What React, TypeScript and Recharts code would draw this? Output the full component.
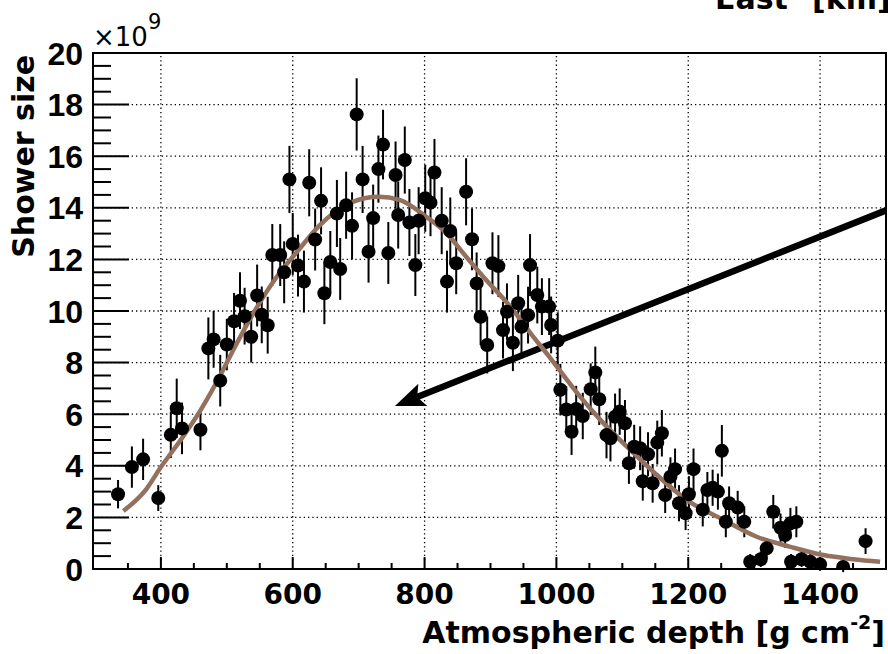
import React from 'react';
import {
  ComposedChart,
  XAxis,
  YAxis,
  Scatter,
  ErrorBar,
  Line,
  ReferenceLine,
  ReferenceArea,
} from 'recharts';

// ---- data ----
const depth = [
  335, 356, 373, 396, 415, 424, 432, 460, 472, 480, 490, 500, 511, 520, 527, 537, 546, 553, 562, 569,
  581, 587, 595, 600, 608, 617, 625, 634, 643, 648, 657, 667, 672, 681, 690, 697, 706, 715, 722, 730,
  737, 745, 756, 760, 770, 777, 786, 791, 801, 809, 815, 826, 834, 839, 848, 863, 872, 879, 885, 895,
  903, 912, 919, 925, 934, 942, 947, 957, 960, 971, 978, 989, 992, 1002, 1006, 1015, 1023, 1030, 1040, 1052,
  1059, 1065, 1076, 1082, 1089, 1096, 1104, 1110, 1118, 1127, 1131, 1139, 1146, 1153, 1160, 1165, 1173, 1180, 1186, 1196,
  1201, 1208, 1222, 1229, 1237, 1245, 1251, 1257, 1262, 1275, 1285, 1294, 1310, 1319, 1329, 1340, 1347, 1355, 1364, 1356,
  1372, 1385, 1400, 1435, 1469,
];

const showerSize = [
  2.9, 3.95, 4.25, 2.75, 5.2, 6.23, 5.45, 5.4, 8.55, 8.9, 7.3, 8.7, 9.6, 10.4, 9.8, 9.0, 10.6, 9.85, 9.45, 12.17,
  12.17, 11.5, 15.1, 12.6, 11.76, 11.14, 14.97, 12.77, 14.27, 10.69, 11.9, 13.78, 11.63, 14.1, 13.3, 17.62, 15.1, 12.3, 13.6, 15.5,
  16.45, 12.25, 15.27, 13.72, 15.85, 13.43, 11.78, 13.5, 14.37, 14.2, 15.37, 13.5, 11.14, 13.1, 11.85, 14.62, 12.78, 11.07, 9.78, 8.68,
  11.85, 11.74, 9.26, 9.97, 8.77, 10.3, 9.39, 9.84, 11.78, 10.62, 10.17, 10.17, 9.46, 8.85, 6.95, 6.18, 5.32, 6.2, 5.93, 6.97,
  7.62, 6.58, 5.19, 5.07, 5.9, 6.1, 5.65, 4.1, 4.74, 4.68, 3.4, 4.45, 3.32, 4.9, 5.26, 2.87, 3.58, 3.87, 2.55, 2.16,
  2.9, 3.87, 2.3, 3.06, 3.15, 3.0, 4.58, 1.83, 2.55, 2.38, 1.83, 0.28, 0.38, 0.8, 2.22, 1.6, 1.32, 1.77, 1.83, 0.28,
  0.38, 0.28, 0.18, 0.08, 1.08,
];

const sizeError = [
  0.55, 0.8, 0.8, 0.5, 0.9, 1.15, 1.0, 0.8, 1.2, 1.1, 1.0, 1.0, 1.1, 1.1, 1.1, 1.0, 1.2, 1.1, 1.1, 1.2,
  1.2, 1.2, 1.3, 1.2, 1.2, 1.2, 1.3, 1.2, 1.3, 1.2, 1.2, 1.3, 1.2, 1.3, 1.3, 1.4, 1.3, 1.2, 1.3, 1.3,
  1.35, 1.2, 1.3, 1.3, 1.3, 1.3, 1.2, 1.3, 1.3, 1.3, 1.3, 1.3, 1.2, 1.3, 1.2, 1.3, 1.2, 1.2, 1.1, 1.1,
  1.2, 1.2, 1.1, 1.1, 1.1, 1.1, 1.1, 1.1, 1.2, 1.1, 1.1, 1.1, 1.1, 1.1, 1.0, 0.9, 0.9, 0.9, 0.9, 1.0,
  1.0, 1.0, 0.9, 0.9, 0.9, 0.9, 0.9, 0.8, 0.85, 0.85, 0.75, 0.85, 0.75, 0.85, 0.9, 0.7, 0.75, 0.8, 0.7, 0.65,
  0.7, 0.8, 0.65, 0.7, 0.7, 0.7, 1.0, 0.6, 0.65, 0.65, 0.6, 0.3, 0.3, 0.4, 0.65, 0.55, 0.5, 0.6, 0.6, 0.3,
  0.3, 0.3, 0.25, 0.2, 0.5,
];

const fitDepth = [
  343, 378, 400, 430, 460, 490, 510, 540, 575, 610, 640, 662, 692, 730, 763, 800, 834, 860, 889, 930,
  965, 990, 1005, 1036, 1066, 1107, 1147, 1198, 1254, 1304, 1355, 1405, 1450, 1491,
];
const fitSize = [
  2.25, 3.1, 3.95, 5.0, 6.15, 7.5, 8.5, 9.9, 11.3, 12.4, 13.3, 13.8, 14.24, 14.43, 14.3, 13.7, 13.0, 12.2, 11.33, 10.17,
  9.0, 8.2, 7.7, 6.68, 5.8, 4.74, 3.77, 2.67, 1.9, 1.25, 0.86, 0.54, 0.38, 0.28,
];

const xTicks = [350, 400, 450, 500, 550, 600, 650, 700, 750, 800, 850, 900, 950, 1000, 1050, 1100, 1150, 1200, 1250, 1300, 1350, 1400, 1450];
const xLabelled = [400, 600, 800, 1000, 1200, 1400];
const yTicks = [
  0, 0.5, 1, 1.5, 2, 2.5, 3, 3.5, 4, 4.5, 5, 5.5, 6, 6.5, 7, 7.5, 8, 8.5, 9, 9.5, 10,
  10.5, 11, 11.5, 12, 12.5, 13, 13.5, 14, 14.5, 15, 15.5, 16, 16.5, 17, 17.5, 18, 18.5, 19, 19.5, 20,
];
const yLabelled = [0, 2, 4, 6, 8, 10, 12, 14, 16, 18, 20];
const xGrid = [400, 600, 800, 1000, 1200, 1400];
const yGrid = [2, 4, 6, 8, 10, 12, 14, 16, 18];
const xDomain: [number, number] = [297, 1500];
const yDomain: [number, number] = [0, 20];
const arrowFrom = { x: 1500, y: 13.9 };
const arrowTo = { x: 755, y: 6.32 };

const points = depth.map((x, i) => ({ x, y: showerSize[i], err: sizeError[i] }));
const fitData = fitDepth.map((x, i) => ({ x, y: fitSize[i] }));

const FIT_COLOR = '#94705e';
const BOLD = '"DejaVu Sans", sans-serif';

const renderYTick = (props: any) => {
  const { x, y, payload } = props;
  const v = payload.value;
  const major = yLabelled.includes(v);
  return (
    <g>
      <line x1={x} y1={y} x2={x + (major ? 36 : 18)} y2={y} stroke="#000" strokeWidth={2} />
      {major && (
        <text
          x={x - 10}
          y={y + 11.5}
          textAnchor="end"
          fontFamily='"Liberation Sans", Arial, sans-serif'
          fontWeight="bold"
          fontSize={32}
          fill="#000"
        >
          {v}
        </text>
      )}
    </g>
  );
};

const renderXTick = (props: any) => {
  const { x, y, payload } = props;
  const v = payload.value;
  const major = xLabelled.includes(v);
  return (
    <g>
      <line x1={x} y1={y} x2={x} y2={y - (major ? 12 : 6)} stroke="#000" strokeWidth={2} />
      {major && (
        <text x={x} y={y + 34.5} textAnchor="middle" fontFamily={BOLD} fontWeight="bold" fontSize={28} fill="#000">
          {v}
        </text>
      )}
    </g>
  );
};

const renderDot = (props: any) => {
  const { cx, cy } = props;
  if (typeof cx !== 'number' || typeof cy !== 'number') return <g />;
  return <circle cx={cx} cy={cy} r={7} fill="#000" />;
};

const renderArrow = (props: any) => {
  const { x1, y1, x2, y2 } = props;
  if ([x1, y1, x2, y2].some((v) => typeof v !== 'number' || isNaN(v))) return <g />;
  const dx = x2 - x1;
  const dy = y2 - y1;
  const len = Math.hypot(dx, dy);
  const ux = dx / len;
  const uy = dy / len;
  const headLen = 30;
  const headHalf = 12;
  const bx = x2 - ux * headLen;
  const by = y2 - uy * headLen;
  const px = -uy;
  const py = ux;
  return (
    <g>
      <line x1={x1} y1={y1} x2={bx + ux * 6} y2={by + uy * 6} stroke="#000" strokeWidth={6.5} />
      <polygon
        points={`${x2},${y2} ${bx + px * headHalf},${by + py * headHalf} ${bx + ux * 6},${by + uy * 6} ${bx - px * headHalf},${by - py * headHalf}`}
        fill="#000"
      />
    </g>
  );
};

export default function App() {
  return (
    <div style={{ position: 'absolute', left: 0, top: 0, width: 888, height: 654, background: '#fff' }}>
      <ComposedChart width={888} height={654} margin={{ top: 53, right: 2, bottom: 84, left: 92 }}>
        <XAxis
          type="number"
          dataKey="x"
          domain={xDomain}
          allowDataOverflow
          ticks={xTicks}
          interval={0}
          tick={renderXTick}
          tickLine={false}
          axisLine={false}
          tickSize={0}
          tickMargin={0}
          height={1}
        />
        <YAxis
          type="number"
          dataKey="y"
          domain={yDomain}
          allowDataOverflow
          ticks={yTicks}
          interval={0}
          tick={renderYTick}
          tickLine={false}
          axisLine={false}
          tickSize={0}
          tickMargin={0}
          width={1}
        />
        {xGrid.map((v) => (
          <ReferenceLine key={'gx' + v} x={v} stroke="#000" strokeWidth={1.3} strokeDasharray="1.3 3" />
        ))}
        {yGrid.map((v) => (
          <ReferenceLine key={'gy' + v} y={v} stroke="#000" strokeWidth={1.3} strokeDasharray="1.3 3" />
        ))}
        <ReferenceLine segment={[arrowFrom, arrowTo]} ifOverflow="visible" shape={renderArrow} />
        <Scatter data={points} dataKey="y" fill="#000" shape={renderDot} isAnimationActive={false}>
          <ErrorBar dataKey="err" direction="y" width={0} stroke="#000" strokeWidth={2} />
        </Scatter>
        <Line
          data={fitData}
          dataKey="y"
          type="monotone"
          stroke={FIT_COLOR}
          strokeWidth={4.5}
          dot={false}
          activeDot={false}
          isAnimationActive={false}
        />
        <ReferenceArea
          x1={xDomain[0]}
          x2={xDomain[1]}
          y1={yDomain[0]}
          y2={yDomain[1]}
          fill="none"
          fillOpacity={0}
          stroke="#000"
          strokeWidth={2}
        />
      </ComposedChart>
      <svg
        width={888}
        height={654}
        style={{ position: 'absolute', left: 0, top: 0, pointerEvents: 'none' }}
      >
        <text x={715} y={8.5} fontFamily={BOLD} fontWeight="bold" fontSize={30} fill="#000">
          East
        </text>
        <text x={812} y={8.5} fontFamily={BOLD} fontWeight="bold" fontSize={30} fill="#000">
          [km]
        </text>
        <text x={93} y={46} fontFamily='"DejaVu Sans", sans-serif' fontSize={26} fill="#000">
          ×10
          <tspan dy={-17} fontSize={21}>9</tspan>
        </text>
        <text
          transform="translate(33.5,55) rotate(-90)"
          textAnchor="end"
          fontFamily={BOLD}
          fontWeight="bold"
          fontSize={30}
          fill="#000"
        >
          Shower size
        </text>
        <text x={885} y={643} textAnchor="end" fontFamily={BOLD} fontWeight="bold" fontSize={30} fill="#000">
          Atmospheric depth [g cm
          <tspan dy={-14} fontSize={19}>-2</tspan>
          <tspan dy={14}>]</tspan>
        </text>
      </svg>
    </div>
  );
}
